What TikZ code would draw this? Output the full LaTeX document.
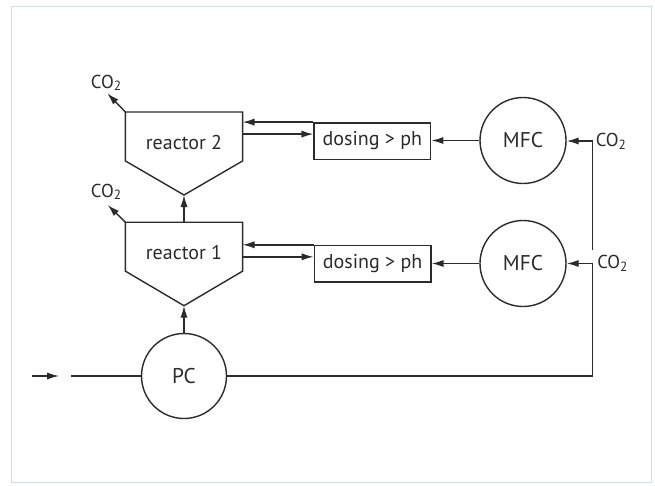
\documentclass[tikz,border=0pt]{standalone}
\usepackage{fontspec}
\setmainfont{PT Sans}
\usetikzlibrary{arrows.meta,calc}
\definecolor{ink}{HTML}{2B2B2B}
\definecolor{frame}{HTML}{CADFE6}
\tikzset{
  ln/.style={draw=ink,line width=1.05pt},
  arr/.style={ln,-{Latex[length=9pt,width=5.4pt]}},
  lbl/.style={text=ink,font=\fontsize{15}{17}\selectfont,inner sep=0pt},
  co/.style={text=ink,font=\fontsize{14}{16}\selectfont,inner sep=0pt},
  body/.style={draw=none,minimum width=87.45pt,minimum height=36.3pt,inner sep=0pt},
  dose/.style={ln,minimum width=87.5pt,minimum height=27.3pt,inner sep=0pt,text=ink,font=\fontsize{15}{17}\selectfont},
  valve/.style={ln,circle,minimum size=64.5pt,inner sep=0pt,text=ink,font=\fontsize{16}{18}\selectfont}
}
\newcommand{\cotwo}{CO\raisebox{-0.25ex}{\fontsize{10}{11}\selectfont 2}}
\begin{document}
\begin{tikzpicture}[x=0.75pt,y=-0.75pt]
\useasboundingbox (0,0) rectangle (655,485);
\draw[frame,line width=0.7pt] (11,6) rectangle (651,482);

% reactor 2
\node[body] (r2b) at (184,136.5) {};
\coordinate (r2apex) at (184,195);
\draw[ln,line join=miter] (r2b.north west) -- (r2b.north east) -- (r2b.south east) -- (r2apex) -- (r2b.south west) -- cycle;
\node[lbl] (r2) at (184,142) {reactor 2};

% reactor 1
\node[body] (r1b) at (184,246.7) {};
\coordinate (r1apex) at (184,305.7);
\draw[ln,line join=miter] (r1b.north west) -- (r1b.north east) -- (r1b.south east) -- (r1apex) -- (r1b.south west) -- cycle;
\node[lbl] (r1) at (184,252) {reactor 1};

% dosing boxes
\node[dose] (d2) at (372.4,141) {dosing > ph};
\node[dose] (d1) at (372.6,263.7) {dosing > ph};

% MFCs and PC
\node[valve] (m2) at (523,140.5) {MFC};
\node[valve] (m1) at (523,263.5) {MFC};
\node[valve,minimum size=63.75pt] (pc) at (184,376) {PC};

% CO2 labels
\node[co] (c2) at (106,82.7) {\cotwo};
\node[co] (c1) at (106,191.7) {\cotwo};
\node[co,anchor=west] (cm2) at (595.5,141.5) {\cotwo};
\node[co,anchor=west] (cm1) at (597,263.5) {\cotwo};

% CO2 vents
\coordinate (v2) at (107.3,93.3);
\coordinate (v1) at (107.7,205);
\draw[arr] (r2b.north west) -- (v2);
\draw[arr] (r1b.north west) -- (v1);

% vertical flow
\draw[arr] (r1b.north) -- (r2apex);
\draw[arr] (pc.north) -- (r1apex);

% reactor <-> dosing
\draw[arr] (d2.north west) -- (d2.north west -| r2b.east);
\draw[arr] ($(d2.north west -| r2b.east)+(0,12)$) -- ($(d2.north west)+(0,12)$);
\draw[arr] (d1.north west) -- (d1.north west -| r1b.east);
\draw[arr] ($(d1.north west -| r1b.east)+(0,12)$) -- ($(d1.north west)+(0,12)$);

% MFC -> dosing
\draw[arr] (m2.west) -- (m2.west -| d2.east);
\draw[arr] (m1.west) -- (m1.west -| d1.east);

% CO2 supply lines
\coordinate (s2) at (592.5,141);
\coordinate (s2b) at (592.5,250);
\coordinate (s1) at (592.5,263.5);
\coordinate (s0) at (592.5,376);
\draw[ln] (s2b) -- (s2);
\draw[arr] (s2) -- (m2.east |- s2);
\draw[ln] (pc.east) -- (s0) -- (s1);
\draw[arr] (s1) -- (m1.east |- s1);

% input
\coordinate (in0) at (32,376);
\coordinate (in1) at (59,376);
\coordinate (in2) at (71,376);
\draw[arr] (in0) -- (in1);
\draw[ln] (in2) -- (pc.west);
\end{tikzpicture}
\end{document}
